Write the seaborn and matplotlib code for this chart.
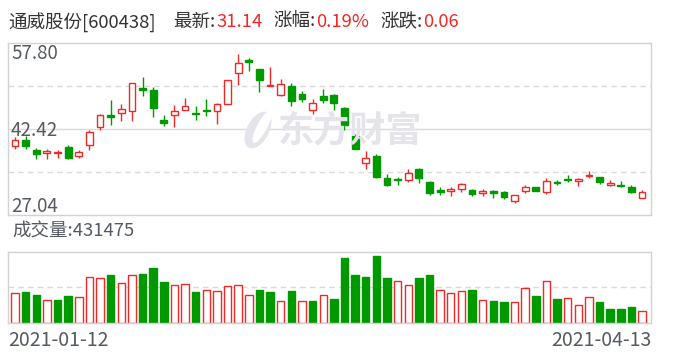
import numpy as np
import matplotlib
matplotlib.use("Agg")
import matplotlib.pyplot as plt
from matplotlib.patches import Ellipse
import seaborn as sns

# ---------------- data ----------------
stock_name = "通威股份[600438]"
latest, pct_change, change = "31.14", "0.19%", "0.06"
latest_volume = 431475
date_start, date_end = "2021-01-12", "2021-04-13"
y_labels = ["57.80", "42.42", "27.04"]

opens = [39.44, 40.39, 38.66, 38.07, 38.07, 39.14, 37.65, 39.50, 42.78, 44.98,
         45.22, 45.58, 49.81, 49.39, 44.03, 44.86, 45.76, 45.28, 45.82, 45.70,
         46.95, 52.38, 54.76, 53.15, 50.11, 48.56, 50.11, 48.68, 45.76, 48.38,
         48.50, 46.18, 41.17, 36.28, 37.59, 33.66, 33.42, 33.24, 35.27, 32.94,
         31.57, 31.27, 31.75, 31.51, 30.92, 31.33, 31.15, 29.48, 31.27, 31.99,
         31.21, 33.00, 33.42, 33.18, 34.07, 33.78, 32.46, 32.46, 31.99, 30.02]
highs = [40.93, 41.11, 39.08, 38.84, 38.60, 39.56, 38.60, 42.18, 45.16, 47.61,
         46.89, 50.71, 51.78, 49.99, 44.92, 46.71, 47.96, 46.53, 47.79, 47.07,
         51.18, 55.83, 55.12, 53.15, 53.51, 51.36, 50.65, 49.22, 47.79, 49.57,
         48.68, 46.35, 41.47, 38.49, 37.95, 34.37, 33.78, 35.21, 35.45, 33.12,
         31.99, 31.99, 32.76, 31.75, 31.69, 31.45, 31.27, 30.62, 32.35, 32.05,
         33.66, 33.36, 34.19, 33.66, 34.91, 33.84, 33.30, 33.12, 32.35, 31.45]
lows = [38.90, 38.84, 37.11, 37.11, 37.17, 37.11, 37.17, 38.72, 42.18, 43.20,
        43.91, 43.91, 48.38, 44.63, 43.02, 42.84, 45.76, 44.09, 44.80, 43.37,
        46.95, 50.29, 52.85, 49.10, 50.11, 48.38, 46.59, 47.31, 45.16, 47.07,
        45.88, 42.24, 38.90, 35.33, 33.66, 32.29, 32.46, 33.00, 32.70, 30.68,
        30.62, 30.50, 31.21, 30.50, 30.50, 30.14, 29.96, 29.19, 31.03, 31.27,
        30.86, 32.46, 33.00, 32.29, 33.72, 32.64, 32.29, 32.05, 30.97, 30.02]
closes = [40.39, 39.44, 38.01, 38.49, 38.37, 37.29, 38.25, 41.82, 44.92, 44.51,
          46.00, 50.65, 49.45, 46.24, 43.55, 45.58, 46.47, 45.10, 45.64, 46.83,
          51.12, 54.16, 54.46, 51.18, 50.29, 50.41, 47.49, 47.84, 47.01, 47.67,
          47.13, 43.20, 38.90, 37.23, 33.90, 32.46, 33.24, 34.49, 33.72, 31.03,
          31.21, 31.69, 32.52, 30.86, 31.33, 31.03, 30.20, 30.62, 31.99, 31.39,
          33.06, 32.82, 33.24, 33.48, 34.19, 33.00, 32.76, 32.29, 31.08, 31.14]
volumes = [1078700, 1114600, 1006800, 815000, 827000, 970800, 922900, 1654000, 1606000, 1725900,
           1438200, 1725900, 1761800, 1977600, 1474200, 1366300, 1402300, 1114600, 1174600, 1150600,
           1318400, 1366300, 1006800, 1186600, 1114600, 779000, 1150600, 779000, 791000, 994800,
           863000, 2337100, 1725900, 1654000, 2409000, 1618000, 1498200, 1366300, 1618000, 1725900,
           1174600, 1066700, 1138600, 1186600, 815000, 791000, 755100, 755100, 1246500, 970800,
           1498200, 863000, 886900, 635200, 922900, 755100, 503400, 503400, 575300, 431475]

# ---------------- style ----------------
RED = "#f02828"
GREEN = "#009a00"
GRID = "#dadada"
FRAME = "#d2d2d2"
TXT = "#555a62"
DARK = "#333333"

sns.set_theme(style="white")
plt.rcParams["font.family"] = ["Noto Sans CJK SC", "DejaVu Sans"]

o = np.array(opens); h = np.array(highs); l = np.array(lows); c = np.array(closes)
v = np.array(volumes)
n = len(o)
idx = np.arange(n)
candle_up = c >= o
prev = np.concatenate([[o[0]], c[:-1]])
vol_up = c >= prev

W, H = 688, 360
fig = plt.figure(figsize=(W / 100, H / 100), dpi=100)
ax = fig.add_axes([8 / W, (H - 215) / H, 643 / W, 172 / H])
axv = fig.add_axes([8 / W, (H - 323) / H, 643 / W, 71.3 / H])

ymax, ymin = float(y_labels[0]), float(y_labels[2])
ymid = (ymax + ymin) / 2

# grid lines
ax.axhline(ymid, color=GRID, lw=1, zorder=1)
for q in (ymin + (ymax - ymin) * 0.25, ymin + (ymax - ymin) * 0.75):
    ax.axhline(q, color=GRID, lw=1, ls=(0, (4, 3)), zorder=1)

# watermark (logo + text)
WM = "#e4e4ea"
px = fig.dpi_scale_trans
fig.patches.append(Ellipse((258 / 100, (H - 130) / 100), 0.22, 0.40, angle=-28,
                           facecolor=WM, edgecolor="none", transform=px, zorder=0))
fig.patches.append(Ellipse((262 / 100, (H - 127) / 100), 0.10, 0.36, angle=-28,
                           facecolor="white", edgecolor="none", transform=px, zorder=0))
fig.text(350 / W, 1 - 131 / H, "东方财富", fontsize=26, fontweight="bold",
         color=WM, ha="center", va="center", zorder=0)

# candles
cols = np.where(candle_up, RED, GREEN)
faces = np.where(candle_up, "white", GREEN)
ax.vlines(idx, l, h, colors=cols, lw=1, zorder=2)
body = np.maximum(np.abs(c - o), 0.06)
ax.bar(idx, body, bottom=np.minimum(o, c), width=0.64, color=faces,
       edgecolor=cols, linewidth=1, zorder=3)
ax.set_xlim(-0.66, n - 1 + 0.84)
ax.set_ylim(ymin, ymax)

# volume
sns.barplot(x=idx, y=v, ax=axv, color="white", width=0.7, saturation=1)
for p, up in zip(axv.patches, vol_up):
    p.set_facecolor("white" if up else GREEN)
    p.set_edgecolor(RED if up else GREEN)
    p.set_linewidth(1)
vtop = latest_volume * 214 / 36
axv.set_ylim(0, vtop)
axv.axhline(vtop / 2, color=GRID, lw=1, ls=(0, (4, 3)), zorder=0)
axv.set_xlim(-0.66, n - 1 + 0.84)

for a in (ax, axv):
    a.set_xticks([]); a.set_yticks([])
    a.set_xlabel(""); a.set_ylabel("")
    for s in a.spines.values():
        s.set_color(FRAME); s.set_linewidth(1); s.set_visible(True)

# price labels
fs_lab = 13.5
for lab, yc in zip(y_labels, (53.5, 130.5, 206.5)):
    fig.text(11 / W, 1 - yc / H, lab, fontsize=fs_lab, color=TXT, va="center")

# header, pieces placed at the reference positions without overlapping
fs_t = 13.3
yt = 1 - 22 / H
renderer = fig.canvas.get_renderer()
pieces = [(stock_name, DARK, 8), ("最新:", DARK, 173), (latest, RED, 213),
          ("涨幅:", DARK, 273), (pct_change, RED, 313), ("涨跌:", DARK, 380),
          (change, RED, 419)]
cursor = 0
for txt, col, x0 in pieces:
    x = max(x0, cursor + 1)
    t = fig.text(x / W, yt, txt, fontsize=fs_t, color=col, va="center")
    bb = t.get_window_extent(renderer)
    cursor = bb.x1

fig.text(12 / W, 1 - 232 / H, f"成交量:{latest_volume}", fontsize=13.3, color=TXT, va="center")
fig.text(8 / W, 1 - 341 / H, date_start, fontsize=14, color=TXT, va="center")
fig.text(651 / W, 1 - 341 / H, date_end, fontsize=14, color=TXT, va="center", ha="right")

fig.savefig("out.png", dpi=100, facecolor="white")
